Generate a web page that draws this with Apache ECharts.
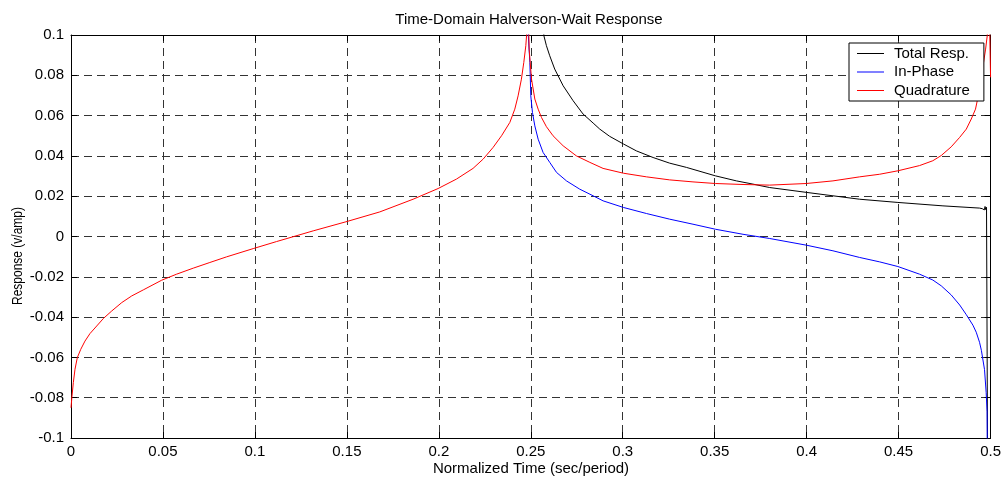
<!DOCTYPE html>
<html>
<head>
<meta charset="utf-8">
<script src="https://cdn.jsdelivr.net/npm/echarts@6/dist/echarts.min.js"></script>
<style>
html,body{margin:0;padding:0;background:#fff;}
#chart{width:1004px;height:477px;}
</style>
</head>
<body>
<div id="chart"></div>
<script>
// ---- data ----
var titleText = 'Time-Domain Halverson-Wait Response';
var xName = 'Normalized Time (sec/period)';
var yName = 'Response (v/amp)';
var seriesNames = ['Total Resp.', 'In-Phase', 'Quadrature'];

var totalT = [0.2565,0.2571,0.2585,0.2603,0.2630,0.2676,0.2730,0.2784,0.2839,0.2875,0.2929,0.3004,0.3074,0.3165,0.3255,0.3346,0.3504,0.3618,0.3708,0.3799,0.3998,0.4143,0.4288,0.4496,0.4741,0.4940,0.4955,0.4962,0.4966,0.4970,0.4974,0.4978,0.4983,0.4985];
var totalV = [0.13,0.0997,0.0947,0.0897,0.0831,0.0748,0.0674,0.0608,0.0563,0.0533,0.0497,0.0459,0.0425,0.0392,0.0364,0.0343,0.0301,0.0276,0.0260,0.0243,0.0219,0.0202,0.0185,0.0169,0.0152,0.0141,0.0138,0.0147,0.0132,0.0149,0.0133,0.0145,0.0140,-0.14];

var inPhaseT = [0.2482,0.2486,0.2495,0.2500,0.2509,0.2522,0.2540,0.2567,0.2603,0.2640,0.2694,0.2766,0.2839,0.2893,0.3004,0.3129,0.3255,0.3382,0.3504,0.3654,0.3799,0.3998,0.4143,0.4288,0.4397,0.4496,0.4614,0.4686,0.4732,0.4786,0.4832,0.4868,0.4904,0.4922,0.4940,0.4950,0.4967,0.4976,0.4981,0.4984];
var inPhaseV = [0.14,0.1005,0.0864,0.0698,0.0616,0.0549,0.0483,0.0417,0.0368,0.0318,0.0276,0.0235,0.0202,0.0177,0.0144,0.0114,0.0086,0.0061,0.0036,0.0011,-0.0010,-0.0043,-0.0071,-0.0104,-0.0126,-0.0149,-0.0187,-0.0216,-0.0245,-0.0290,-0.0340,-0.0388,-0.0440,-0.0475,-0.0525,-0.0565,-0.066,-0.0774,-0.087,-0.14];

var quadT = [0,0.00054,0.00127,0.00217,0.00344,0.0053,0.0076,0.0103,0.0140,0.0176,0.0221,0.0276,0.0330,0.0393,0.0493,0.0574,0.0665,0.0755,0.0846,0.0991,0.1118,0.1317,0.1495,0.1679,0.1860,0.1996,0.2096,0.2186,0.2241,0.2295,0.2341,0.2386,0.2413,0.2431,0.2449,0.2462,0.2473,0.2477,0.2481,0.2491,0.2504,0.2522,0.2540,0.2558,0.2585,0.2621,0.2676,0.2748,0.2821,0.2893,0.3004,0.3129,0.3255,0.3382,0.3504,0.3654,0.3799,0.3998,0.4143,0.4288,0.4397,0.4496,0.4614,0.4686,0.4732,0.4786,0.4832,0.4868,0.4895,0.4918,0.4937,0.4950,0.4962,0.4973,0.4982,0.4990,0.5];
var quadV = [-0.085,-0.0792,-0.0725,-0.0659,-0.0601,-0.056,-0.0519,-0.0482,-0.0444,-0.0407,-0.0370,-0.0328,-0.0295,-0.0265,-0.0217,-0.0187,-0.0157,-0.0129,-0.0101,-0.0060,-0.0025,0.0028,0.0073,0.0122,0.0185,0.0238,0.0285,0.0338,0.0384,0.0442,0.0500,0.0566,0.0632,0.0698,0.0781,0.0864,0.0947,0.0997,0.14,0.0930,0.0781,0.0682,0.0632,0.0591,0.0545,0.0500,0.0450,0.0400,0.0368,0.0338,0.0314,0.0296,0.0281,0.0271,0.0263,0.0258,0.0255,0.0263,0.0276,0.0296,0.0309,0.0326,0.0352,0.0376,0.0402,0.0445,0.0492,0.0533,0.0583,0.0632,0.0715,0.0781,0.0864,0.0930,0.0997,0.13,0.079];

var xTicks = {min:0, max:0.5, interval:0.05};
var yTicks = {min:-0.1, max:0.1, interval:0.02};
// --------------------------------------

function pairs(t, v){ return t.map(function(x,i){ return [x, v[i]]; }); }

var FONT = 'Liberation Sans, Arial, Helvetica, sans-serif';
var chart = echarts.init(document.getElementById('chart'), null, {renderer:'canvas'});
var gridDash = {color:'#333', type:[8,5], width:1};
var fmt = function(v){ return String(parseFloat(v.toFixed(3))); };

function lineSeries(name, t, v, color){
  return {name:name, type:'line', data:pairs(t,v), symbol:'none', showSymbol:false, clip:true,
    lineStyle:{color:color, width:1}, itemStyle:{color:color}};
}

chart.setOption({
  animation:false,
  backgroundColor:'#fff',
  grid:{left:71, right:13, top:35, bottom:39, containLabel:false},
  legend:{
    orient:'vertical', left:849, top:43,
    data:seriesNames.map(function(n){ return {name:n, icon:'rect'}; }),
    backgroundColor:'#fff', borderColor:'#000', borderWidth:1,
    padding:[3,14,3,8],
    itemWidth:27, itemHeight:1, itemGap:3.5,
    textStyle:{fontFamily:FONT, fontSize:15, color:'#000', lineHeight:15, padding:[0,0,0,5]}
  },
  xAxis:[{
    type:'value', min:xTicks.min, max:xTicks.max, interval:xTicks.interval,
    axisLine:{show:true, onZero:false, lineStyle:{color:'#000', width:1}},
    axisTick:{show:true, inside:true, length:6, lineStyle:{color:'#000'}},
    axisLabel:{color:'#000', fontFamily:FONT, fontSize:15, margin:6, formatter:fmt},
    splitLine:{show:true, lineStyle:gridDash}
  },{
    type:'value', position:'top', min:xTicks.min, max:xTicks.max, interval:xTicks.interval,
    axisLine:{show:true, onZero:false, lineStyle:{color:'#000', width:1}},
    axisTick:{show:true, inside:true, length:6, lineStyle:{color:'#000'}},
    axisLabel:{show:false}, splitLine:{show:false}
  }],
  yAxis:[{
    type:'value', min:yTicks.min, max:yTicks.max, interval:yTicks.interval,
    axisLine:{show:true, onZero:false, lineStyle:{color:'#000', width:1}},
    axisTick:{show:true, inside:true, length:6, lineStyle:{color:'#000'}},
    axisLabel:{color:'#000', fontFamily:FONT, fontSize:15, margin:7, formatter:fmt},
    splitLine:{show:true, lineStyle:gridDash}
  },{
    type:'value', position:'right', min:yTicks.min, max:yTicks.max, interval:yTicks.interval,
    axisLine:{show:true, onZero:false, lineStyle:{color:'#000', width:1}},
    axisTick:{show:true, inside:true, length:6, lineStyle:{color:'#000'}},
    axisLabel:{show:false}, splitLine:{show:false}
  }],
  graphic:[
    {type:'text', x:529, y:20, silent:true,
     style:{text:titleText, fill:'#000', font:'15px '+FONT, align:'center', verticalAlign:'middle'}},
    {type:'text', x:531, y:469, silent:true,
     style:{text:xName, fill:'#000', font:'15px '+FONT, align:'center', verticalAlign:'middle'}},
    {type:'text', x:18, y:256, rotation:Math.PI/2, scaleX:0.8, silent:true,
     style:{text:yName, fill:'#000', font:'15px '+FONT, align:'center', verticalAlign:'middle'}}
  ],
  series:[
    lineSeries(seriesNames[0], totalT, totalV, '#000000'),
    lineSeries(seriesNames[1], inPhaseT, inPhaseV, '#0000ff'),
    lineSeries(seriesNames[2], quadT, quadV, '#ff0000')
  ]
});
</script>
</body>
</html>
